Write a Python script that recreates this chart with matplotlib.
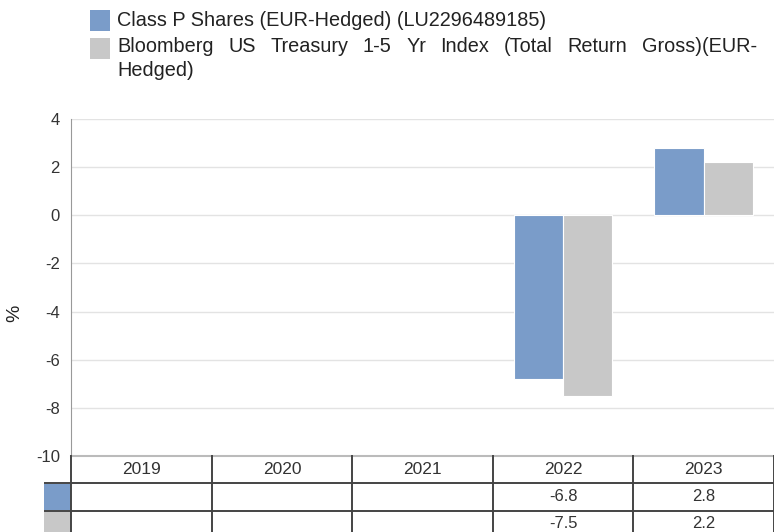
import matplotlib
matplotlib.use("Agg")
import matplotlib.pyplot as plt
from matplotlib.patches import Rectangle
import numpy as np

categories = ["2019", "2020", "2021", "2022", "2023"]
fund_values = [np.nan, np.nan, np.nan, -6.8, 2.8]
bench_values = [np.nan, np.nan, np.nan, -7.5, 2.2]
fund_label = "Class P Shares (EUR-Hedged) (LU2296489185)"
bench_label_line1 = "Bloomberg US Treasury 1-5 Yr Index (Total Return Gross)(EUR-"
bench_label_line2 = "Hedged)"
y_ticks = [4, 2, 0, -2, -4, -6, -8, -10]

BLUE = "#7a9cc9"
GREY = "#c8c8c8"
TXT = "#333333"

plt.rcParams['font.family'] = ['Liberation Sans', 'DejaVu Sans']

W, H = 774, 532
fig = plt.figure(figsize=(W / 100, H / 100), dpi=100)

def fx(px):
    return px / W

def fy(py):
    return 1 - py / H

ax_l, ax_r, ax_t, ax_b = 71, 774, 119, 456
ax = fig.add_axes([fx(ax_l), fy(ax_b), fx(ax_r - ax_l), fy(ax_t) - fy(ax_b)])
x = np.arange(len(categories))
bw = 0.35
ax.bar(x - bw / 2, fund_values, width=bw, color=BLUE, edgecolor="white", linewidth=0.8, zorder=3)
ax.bar(x + bw / 2, bench_values, width=bw, color=GREY, edgecolor="white", linewidth=0.8, zorder=3)
ax.set_xlim(-0.5, len(categories) - 0.5)
ax.set_ylim(-10, 4)
ax.set_yticks(y_ticks)
ax.set_yticklabels([str(t) for t in y_ticks], color=TXT, fontsize=12)
ax.tick_params(axis='y', length=0, pad=8)
ax.set_xticks([])
ax.grid(axis='y', color="#e3e3e3", linewidth=1, zorder=0)
for s in ["top", "right"]:
    ax.spines[s].set_visible(False)
ax.spines["left"].set_color("#999999")
ax.spines["bottom"].set_color("#bbbbbb")
ax.spines["bottom"].set_linewidth(1.5)

fig.text(fx(15), fy(313), "%", rotation=90, ha="center", va="center", fontsize=14, color="#222222")

# Legend
LFS = 14.3
fig.patches.append(Rectangle((fx(90), fy(31)), fx(20), fy(10) - fy(31), transform=fig.transFigure,
                             facecolor=BLUE, edgecolor="none"))
fig.patches.append(Rectangle((fx(90), fy(59)), fx(20), fy(38) - fy(59), transform=fig.transFigure,
                             facecolor=GREY, edgecolor="none"))
fig.text(fx(117), fy(21), fund_label, ha="left", va="center", fontsize=LFS, color="#222222")

# justified second legend line
renderer = fig.canvas.get_renderer()
words = bench_label_line1.split(" ")
word_texts = [fig.text(0, fy(46), w, ha="left", va="center", fontsize=LFS, color="#222222") for w in words]
widths = [t.get_window_extent(renderer).width for t in word_texts]
x0, x1 = 117, 757
gap = (x1 - x0 - sum(widths)) / (len(words) - 1)
cur = x0
for t, wd in zip(word_texts, widths):
    t.set_x(fx(cur))
    cur += wd + gap
fig.text(fx(117), fy(70), bench_label_line2, ha="left", va="center", fontsize=LFS, color="#222222")

# Table
tb_l = 44
tax = fig.add_axes([fx(tb_l), 0, fx(ax_r - tb_l), fy(ax_b)])
cat_px = (ax_r - ax_l) / len(categories)
left_units = -0.5 - (ax_l - tb_l) / cat_px
tax.set_xlim(left_units, len(categories) - 0.5)
tax.set_ylim(H, ax_b)
tax.axis("off")
lc = "#444444"
lw = 1.4
for i in range(len(categories) + 1):
    xv = i - 0.5
    tax.plot([xv, xv], [456, 540], color=lc, lw=lw, clip_on=False)
tax.plot([left_units, len(categories) - 0.5], [483, 483], color=lc, lw=lw)
tax.plot([left_units, len(categories) - 0.5], [511, 511], color=lc, lw=lw)
tax.add_patch(Rectangle((left_units, 484), -0.5 - left_units, 26, facecolor=BLUE, edgecolor="none"))
tax.add_patch(Rectangle((left_units, 512), -0.5 - left_units, 30, facecolor=GREY, edgecolor="none"))
for i, c in enumerate(categories):
    tax.text(i, 469.5, c, ha="center", va="center", fontsize=12.5, color=TXT)
    if not np.isnan(fund_values[i]):
        tax.text(i, 497, f"{fund_values[i]:.1f}", ha="center", va="center", fontsize=12, color=TXT)
    if not np.isnan(bench_values[i]):
        tax.text(i, 524, f"{bench_values[i]:.1f}", ha="center", va="center", fontsize=12, color=TXT)

fig.savefig("out.png", dpi=100)
